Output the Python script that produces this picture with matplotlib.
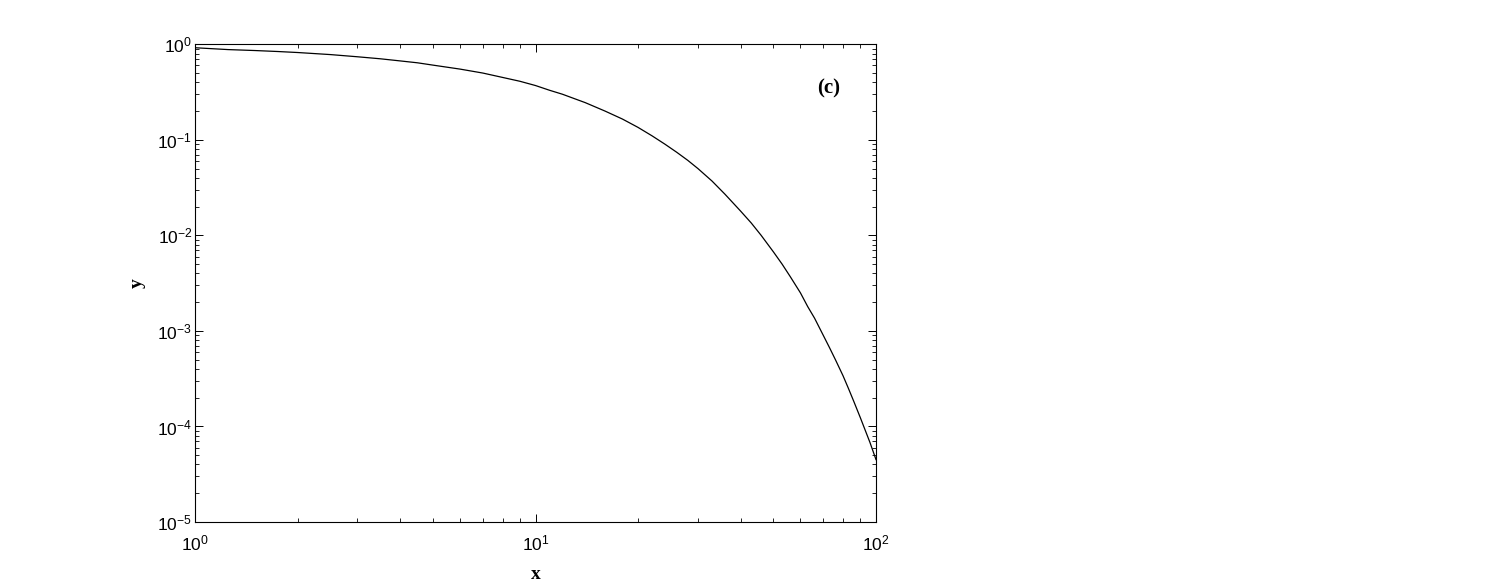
import numpy as np
from matplotlib import pyplot as plt
from matplotlib import ticker

plt.rcParams['font.family'] = ['Liberation Sans', 'DejaVu Sans']
plt.rcParams['mathtext.fontset'] = 'custom'
plt.rcParams['mathtext.rm'] = 'Liberation Sans'
plt.rcParams['mathtext.it'] = 'Liberation Sans'

# значения
x = [1, 1.25, 1.5, 1.75, 2, 2.5, 3, 3.5, 4, 4.5, 5, 6, 7, 8, 9, 10, 11, 12,
     13, 14, 16, 18, 20, 22, 24, 26, 28, 30, 33, 36, 40, 43, 46, 50, 53, 56,
     60, 63, 66, 70, 73, 76, 80, 83, 86, 90, 93, 96, 100]
y = [0.92, 0.88, 0.86, 0.84, 0.82, 0.78, 0.74, 0.705, 0.67, 0.64, 0.605,
     0.55, 0.50, 0.45, 0.41, 0.37, 0.33, 0.30, 0.27, 0.245, 0.20, 0.165,
     0.135, 0.11, 0.09, 0.074, 0.061, 0.05, 0.037, 0.027, 0.018, 0.0135,
     0.010, 0.0067, 0.005, 0.0037, 0.0025, 0.0018, 0.00136, 0.0009, 0.00067,
     0.0005, 0.00034, 0.00025, 0.000184, 0.000123, 0.000091, 0.000068,
     0.000045]

fig = plt.figure(figsize=(15, 5.88), dpi=100)
ax = fig.add_axes([0.13, 0.1122, 0.454, 0.8125])
ax.plot(x, y, color='black', linewidth=0.9)
ax.set_xscale('log')
ax.set_yscale('log')
ax.set_xlim(1, 100)
ax.set_ylim(1e-5, 1)
ax.xaxis.set_major_locator(ticker.LogLocator(base=10, numticks=10))
ax.yaxis.set_major_locator(ticker.LogLocator(base=10, numticks=10))
ax.xaxis.set_minor_locator(ticker.LogLocator(base=10, subs=np.arange(2, 10), numticks=20))
ax.yaxis.set_minor_locator(ticker.LogLocator(base=10, subs=np.arange(2, 10), numticks=20))
ax.xaxis.set_minor_formatter(ticker.NullFormatter())
ax.yaxis.set_minor_formatter(ticker.NullFormatter())
ax.tick_params(which='both', direction='in', top=True, right=True, labelsize=12.5)
ax.tick_params(which='major', length=6, width=0.7)
ax.tick_params(which='minor', length=3, width=0.6)
ax.tick_params(axis='x', pad=8)
ax.tick_params(axis='y', pad=2)
for s in ax.spines.values():
    s.set_linewidth(0.8)

ax.set_xlabel('x', fontfamily='Liberation Serif', fontweight='bold', fontsize=14, labelpad=9)
ax.set_ylabel('y', fontfamily='Liberation Serif', fontweight='bold', fontsize=14, labelpad=8)
ax.text(0.93, 0.908, '(c)', transform=ax.transAxes, ha='center', va='center',
        fontfamily='Liberation Serif', fontweight='bold', fontsize=15)

fig.savefig('out.png')
